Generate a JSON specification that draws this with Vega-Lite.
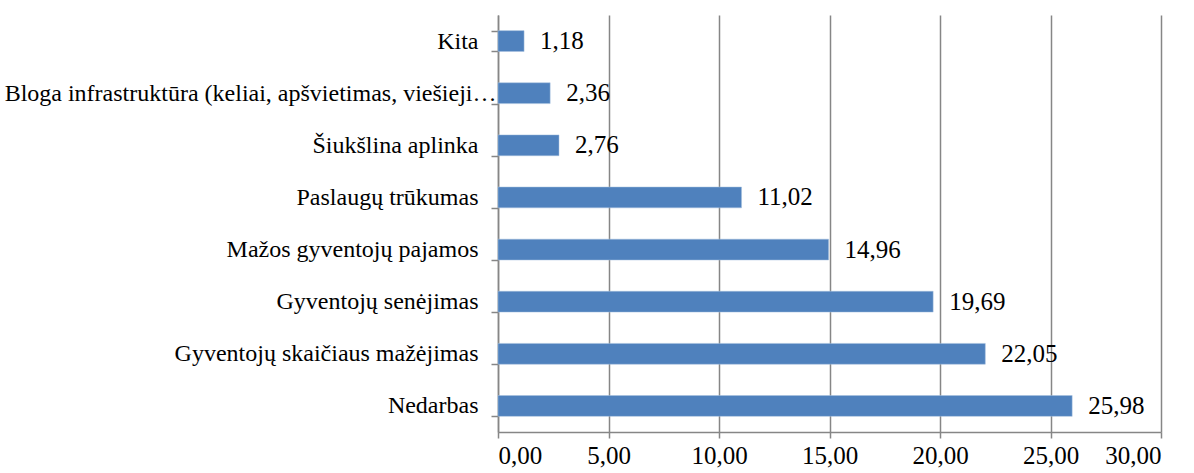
{
  "$schema": "https://vega.github.io/schema/vega-lite/v6.json",
  "width": 663,
  "height": 417,
  "autosize": {"type": "none"},
  "padding": {"left": 498, "top": 15, "right": 33, "bottom": 41},
  "background": "white",
  "config": {
    "locale": {"number": {"decimal": ",", "thousands": " ", "grouping": [3], "currency": ["", " €"]}},
    "view": {"stroke": null},
    "font": "Liberation Serif"
  },
  "data": {
    "values": [
      {"category": "Kita", "value": 1.18},
      {"category": "Bloga infrastruktūra (keliai, apšvietimas, viešieji…", "value": 2.36},
      {"category": "Šiukšlina aplinka", "value": 2.76},
      {"category": "Paslaugų trūkumas", "value": 11.02},
      {"category": "Mažos gyventojų pajamos", "value": 14.96},
      {"category": "Gyventojų senėjimas", "value": 19.69},
      {"category": "Gyventojų skaičiaus mažėjimas", "value": 22.05},
      {"category": "Nedarbas", "value": 25.98}
    ]
  },
  "encoding": {
    "y": {
      "field": "category",
      "type": "nominal",
      "sort": {"field": "value", "order": "ascending"},
      "scale": {"paddingInner": 0.6, "paddingOuter": 0.3},
      "axis": {
        "title": null,
        "tickBand": "extent",
        "labelFont": "Liberation Serif",
        "labelFontSize": 24,
        "labelColor": "black",
        "labelPadding": {"expr": "indexof(datum.label, 'Bloga') == 0 ? -5 : 13"},
        "labelLimit": 600,
        "tickSize": 7,
        "tickColor": "#868686",
        "domainColor": "#868686",
        "tickWidth": 1.5,
        "domainWidth": 1.5
      }
    },
    "x": {
      "field": "value",
      "type": "quantitative",
      "scale": {"domain": [0, 30], "nice": false},
      "axis": {
        "title": null,
        "values": [0, 5, 10, 15, 20, 25, 30],
        "format": ".2f",
        "grid": true,
        "gridColor": "#868686",
        "gridWidth": 1.5,
        "domainColor": "#868686",
        "domainWidth": 1.5,
        "tickColor": "#868686",
        "tickWidth": 1.5,
        "tickSize": 6,
        "labelFont": "Liberation Serif",
        "labelFontSize": 25,
        "labelColor": "black",
        "labelPadding": 5
      }
    }
  },
  "layer": [
    {"mark": {"type": "bar", "color": "#4F81BD", "stroke": "#A7C0DE", "strokeWidth": 0.5}},
    {
      "mark": {"type": "text", "align": "left", "baseline": "middle", "dx": 16, "font": "Liberation Serif", "fontSize": 25, "color": "black"},
      "encoding": {"text": {"field": "value", "type": "quantitative", "format": ".2f"}}
    }
  ]
}
